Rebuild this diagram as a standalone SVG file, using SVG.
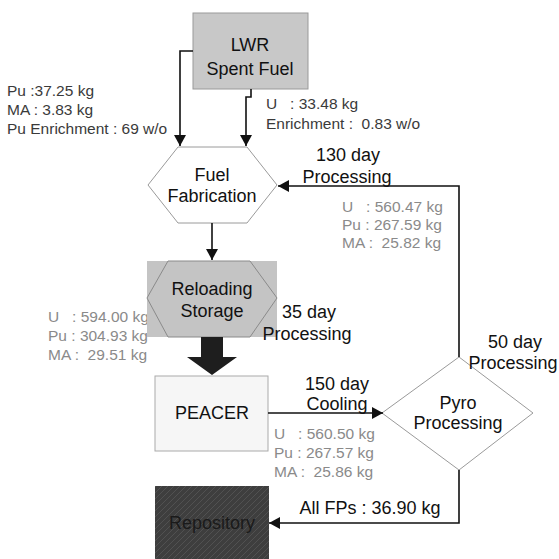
<svg xmlns="http://www.w3.org/2000/svg" width="559" height="559" viewBox="0 0 559 559">
<style>
.lbl{font-family:"Liberation Sans",Arial,sans-serif;font-size:18px;fill:#111;text-anchor:middle}
.dat{font-family:"Liberation Sans",Arial,sans-serif;font-size:15.5px;fill:#8a8a8a}
.src{font-family:"Liberation Sans",Arial,sans-serif;font-size:15.5px;fill:#3a3a3a}
.ln{fill:none;stroke:#111;stroke-width:1.6}
</style>
<defs>
<marker id="ah" markerUnits="userSpaceOnUse" markerWidth="12" markerHeight="12" refX="11" refY="6" orient="auto">
<path d="M0,0 L11,6 L0,12 z" fill="#111"/>
</marker>
<pattern id="tex" width="6" height="6" patternUnits="userSpaceOnUse">
<rect width="6" height="6" fill="#3e3e3e"/>
<path d="M0,6 L6,0" stroke="#555" stroke-width="0.8"/>
</pattern>
</defs>
<rect width="559" height="559" fill="#fff"/>

<g id="data-labels">
<text class="src" x="7" y="96">Pu :37.25 kg</text>
<text class="src" x="7" y="115">MA :  3.83 kg</text>
<text class="src" x="7" y="134">Pu Enrichment : 69 w/o</text>
<text class="src" x="266" y="109" xml:space="preserve">U   : 33.48 kg</text>
<text class="src" x="266" y="129" xml:space="preserve">Enrichment :  0.83 w/o</text>
<text class="dat" x="342" y="212" xml:space="preserve">U   : 560.47 kg</text>
<text class="dat" x="342" y="230">Pu : 267.59 kg</text>
<text class="dat" x="342" y="248" xml:space="preserve">MA :  25.82 kg</text>
<text class="dat" x="48" y="322" xml:space="preserve">U   : 594.00 kg</text>
<text class="dat" x="48" y="341">Pu : 304.93 kg</text>
<text class="dat" x="48" y="360" xml:space="preserve">MA :  29.51 kg</text>
<text class="dat" x="274" y="439" xml:space="preserve">U   : 560.50 kg</text>
<text class="dat" x="274" y="458">Pu : 267.57 kg</text>
<text class="dat" x="274" y="477" xml:space="preserve">MA :  25.86 kg</text>
</g>

<g id="lwr">
<rect x="193" y="13" width="115" height="76" fill="#c8c8c8" stroke="#9a9a9a" stroke-width="1"/>
<text class="lbl" x="250" y="51">LWR</text>
<text class="lbl" x="250" y="75">Spent Fuel</text>
</g>

<g id="fuel-fabrication">
<polygon points="148,185 178,147 247,147 277,185 247,223 178,223" fill="#fff" stroke="#9a9a9a" stroke-width="1"/>
<text class="lbl" x="212" y="181">Fuel</text>
<text class="lbl" x="212" y="202">Fabrication</text>
</g>

<g id="reloading-storage">
<rect x="147" y="261" width="130" height="76" fill="#c4c4c4"/>
<polygon points="147,298 168,261 250,261 277,298 250,337 168,337" fill="none" stroke="#8a8a8a" stroke-width="1"/>
<text class="lbl" x="212" y="295">Reloading</text>
<text class="lbl" x="212" y="317">Storage</text>
</g>

<g id="peacer">
<rect x="155" y="376" width="113" height="75" fill="#f6f6f6" stroke="#aaa" stroke-width="1"/>
<text class="lbl" x="212" y="419">PEACER</text>
</g>

<g id="pyro-processing">
<polygon points="459,357 533,413 459,470 382,413" fill="#fff" stroke="#9a9a9a" stroke-width="1"/>
<text class="lbl" x="458" y="409">Pyro</text>
<text class="lbl" x="458" y="429">Processing</text>
</g>

<g id="repository">
<rect x="155" y="486" width="114" height="80" fill="url(#tex)"/>
<text class="lbl" x="212" y="529" style="fill:#1a1a1a">Repository</text>
</g>

<g id="connectors">
<path class="ln" d="M193,51 H180 V146" marker-end="url(#ah)"/>
<path class="ln" d="M251,89 V97 H246 V146" marker-end="url(#ah)"/>
<path class="ln" d="M212,223 V260" marker-end="url(#ah)"/>
<path class="ln" d="M459,357 V186 H278" marker-end="url(#ah)"/>
<path class="ln" d="M268,413 H383" marker-end="url(#ah)"/>
<path class="ln" d="M459,470 V523 H269" marker-end="url(#ah)"/>
<polygon points="201,337 223,337 223,357 237,357 212,375 187,357 201,357" fill="#1e1e1e"/>
</g>

<g id="connector-labels">
<text class="lbl" x="348" y="161">130 day</text>
<text class="lbl" x="347" y="183">Processing</text>
<text class="lbl" x="309" y="318">35 day</text>
<text class="lbl" x="307" y="340">Processing</text>
<text class="lbl" x="515" y="348">50 day</text>
<text class="lbl" x="513" y="369">Processing</text>
<text class="lbl" x="337" y="390">150 day</text>
<text class="lbl" x="337" y="410">Cooling</text>
<text class="lbl" x="370" y="514">All FPs : 36.90 kg</text>
</g>
</svg>
